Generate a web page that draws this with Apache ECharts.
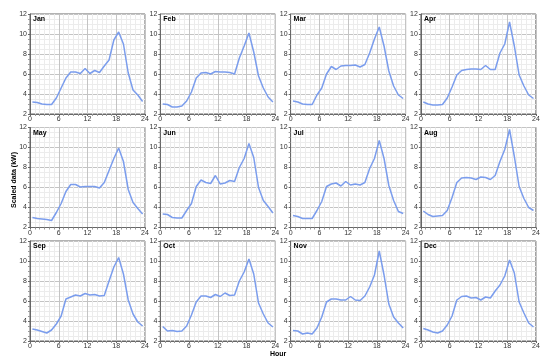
<!DOCTYPE html>
<html><head><meta charset="utf-8">
<script src="https://cdn.jsdelivr.net/npm/echarts@6/dist/echarts.min.js"></script>
<style>html,body{margin:0;padding:0;background:#fff}#c{width:550px;height:364px}</style>
</head><body><div id="c"></div>
<script>
const months = ["Jan","Feb","Mar","Apr","May","Jun","Jul","Aug","Sep","Oct","Nov","Dec"];
const hours = [0.5,1.5,2.5,3.5,4.5,5.5,6.5,7.5,8.5,9.5,10.5,11.5,12.5,13.5,14.5,15.5,16.5,17.5,18.5,19.5,20.5,21.5,22.5,23.5];
const xTicks = [0,6,12,18,24];
const yTicks = [2,4,6,8,10,12];
const jan = [3.2,3.15,3.0,2.95,2.95,3.6,4.6,5.6,6.2,6.2,6.05,6.55,6.05,6.35,6.15,6.8,7.4,9.4,10.2,9.0,6.1,4.4,3.9,3.25];
const feb = [3.0,2.95,2.7,2.7,2.8,3.3,4.2,5.6,6.1,6.15,6.0,6.25,6.2,6.2,6.15,6.0,7.6,8.8,10.1,8.2,5.8,4.6,3.7,3.2];
const mar = [3.3,3.2,3.0,2.95,2.95,3.9,4.6,6.0,6.75,6.45,6.8,6.85,6.85,6.9,6.7,6.95,8.1,9.5,10.7,8.8,6.3,4.8,3.9,3.55];
const apr = [3.2,3.0,2.9,2.9,2.95,3.6,4.7,5.9,6.35,6.45,6.5,6.5,6.45,6.85,6.45,6.45,8.1,9.0,11.2,8.8,5.9,4.8,3.9,3.55];
const may = [3.0,2.9,2.85,2.8,2.7,3.5,4.4,5.6,6.3,6.3,6.05,6.1,6.1,6.1,5.95,6.5,7.7,8.9,9.95,8.6,5.8,4.5,3.9,3.35];
const jun = [3.35,3.3,3.0,2.95,2.95,3.7,4.4,6.1,6.75,6.5,6.4,7.2,6.35,6.45,6.7,6.6,8.0,8.9,10.4,9.0,6.0,4.7,4.1,3.45];
const jul = [3.2,3.1,2.9,2.9,2.9,3.7,4.6,6.1,6.35,6.45,6.15,6.6,6.25,6.35,6.25,6.5,7.9,8.9,10.7,8.9,6.2,4.7,3.6,3.4];
const aug = [3.65,3.3,3.1,3.15,3.2,3.7,5.0,6.5,6.95,7.0,6.95,6.8,7.05,7.0,6.8,7.2,8.6,9.8,11.8,9.1,6.1,4.9,4.0,3.7];
const sep = [3.2,3.1,2.95,2.8,3.1,3.7,4.5,6.2,6.4,6.6,6.5,6.75,6.6,6.65,6.5,6.55,8.0,9.4,10.35,8.7,6.1,4.7,3.9,3.5];
const oct = [3.45,3.0,3.05,2.95,3.0,3.5,4.6,5.9,6.5,6.5,6.35,6.65,6.45,6.8,6.55,6.6,8.0,8.9,10.2,8.7,5.8,4.7,3.8,3.4];
const nov = [3.05,3.0,2.7,2.8,2.7,3.3,4.4,5.9,6.2,6.2,6.1,6.1,6.45,6.1,6.05,6.5,7.4,8.6,11.0,8.6,5.7,4.4,3.8,3.3];
const dec = [3.25,3.1,2.9,2.8,3.0,3.6,4.5,6.1,6.45,6.5,6.3,6.35,6.1,6.4,6.3,7.0,7.6,8.5,10.1,8.8,5.9,4.8,3.8,3.4];
const values = [jan,feb,mar,apr,may,jun,jul,aug,sep,oct,nov,dec];

const FONT = "Liberation Sans";
const grids=[], xAxes=[], yAxes=[], series=[], titles=[];
months.forEach((m,i)=>{
  const col=i%4, row=Math.floor(i/4);
  const left=30+col*130.3, top=14+row*113.5;
  grids.push({left:left, top:top, width:115, height:100, containLabel:false,
    show:true, backgroundColor:'#fff', borderColor:'#666', borderWidth:1});
  xAxes.push({type:'value', gridIndex:i, min:xTicks[0], max:xTicks[xTicks.length-1], interval:6,
    axisLine:{show:true, onZero:false, lineStyle:{color:'#666'}},
    axisTick:{show:true, length:2, lineStyle:{color:'#666'}},
    minorTick:{show:true, splitNumber:6, length:2, lineStyle:{color:'#999'}},
    axisLabel:{fontSize:7, color:'#333', fontFamily:FONT, margin:2},
    splitLine:{show:true, lineStyle:{color:'#c4c4c4', width:1}},
    minorSplitLine:{show:true, lineStyle:{color:'#ececec', width:1}}});
  yAxes.push({type:'value', gridIndex:i, min:yTicks[0], max:yTicks[yTicks.length-1], interval:2,
    axisLine:{show:true, onZero:false, lineStyle:{color:'#666'}},
    axisTick:{show:true, length:2, lineStyle:{color:'#666'}},
    minorTick:{show:true, splitNumber:4, length:2, lineStyle:{color:'#999'}},
    axisLabel:{fontSize:7, color:'#333', fontFamily:FONT, margin:3},
    splitLine:{show:true, lineStyle:{color:'#c4c4c4', width:1}},
    minorSplitLine:{show:true, lineStyle:{color:'#ececec', width:1}}});
  series.push({type:'line', xAxisIndex:i, yAxisIndex:i, showSymbol:false, symbol:'none',
    data:hours.map((h,k)=>[h, values[i][k]]),
    lineStyle:{color:'#7b9ded', width:1.5}, animation:false});
  titles.push({text:m, left:left+3, top:top+2, padding:0,
    textStyle:{fontSize:7, fontWeight:'bold', color:'#000', fontFamily:FONT}});
});

const chart = echarts.init(document.getElementById('c'), null, {renderer:'canvas'});
chart.setOption({
  animation:false,
  backgroundColor:'#fff',
  title:titles,
  grid:grids, xAxis:xAxes, yAxis:yAxes, series:series,
  graphic:[
    {type:'text', left:270, top:351, style:{text:'Hour', font:'bold 7px "Liberation Sans"', fill:'#000'}},
    {type:'text', x:14, y:180, rotation:Math.PI/2, style:{text:'Scaled data (kW)', font:'bold 7px "Liberation Sans"', fill:'#000', textAlign:'center', textVerticalAlign:'middle'}}
  ]
});
</script></body></html>
